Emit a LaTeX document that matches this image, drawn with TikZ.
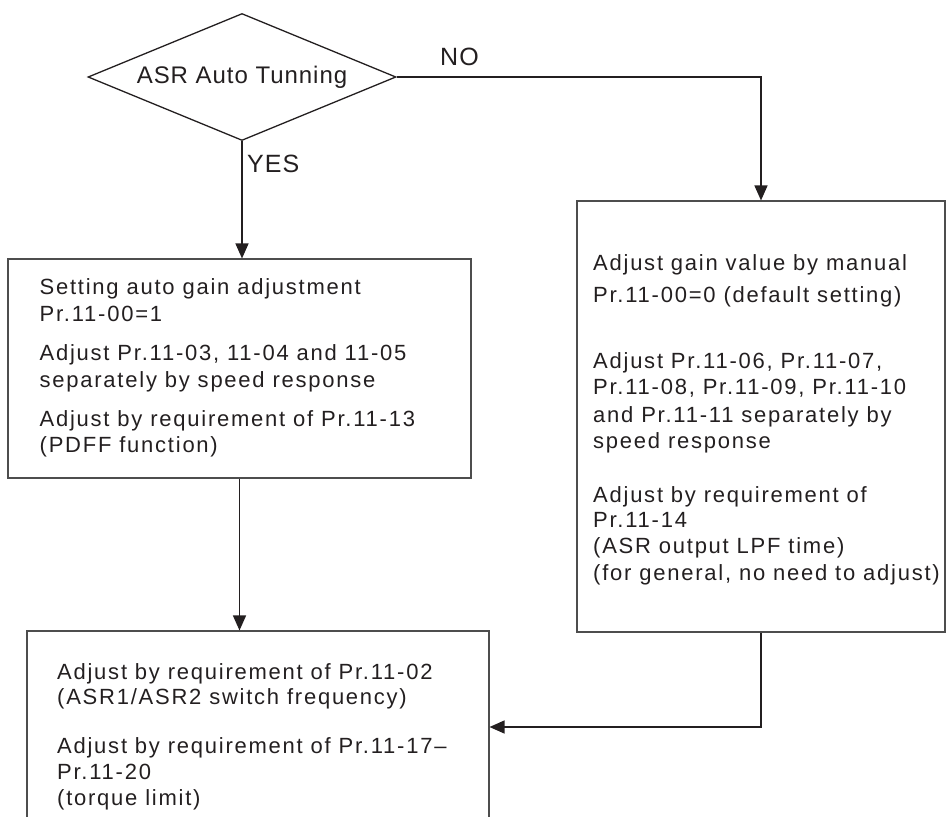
\documentclass[tikz,border=0pt]{standalone}
\usepackage{fontspec}
\setmainfont{Liberation Sans}
\newfontfamily\bodyfont{Liberation Sans}[LetterSpace=8]
\newfontfamily\labelfont{Liberation Sans}[LetterSpace=4]
\usetikzlibrary{shapes.geometric,arrows.meta}
\definecolor{ink}{HTML}{231F20}
\definecolor{edgec}{HTML}{4D4D4D}
\begin{document}
\begin{tikzpicture}[x=1pt,y=-1pt,
  boxnode/.style={draw=edgec, line width=1.1pt, rectangle, inner sep=0pt},
  conn/.style={draw=ink, line width=1.4pt, -{Triangle[length=15pt,width=13pt]}},
  ln/.style={anchor=base west, inner sep=0pt, text=ink, font=\bodyfont\fontsize{22}{26}\selectfont},
  lbl/.style={anchor=base west, inner sep=0pt, text=ink, font=\labelfont\fontsize{25}{30}\selectfont}]
\useasboundingbox (0,0) rectangle (946,817);
\clip (0,0) rectangle (946,817);

% decision
\node[diamond, draw=ink, line width=1.3pt, minimum width=308pt, minimum height=127pt,
      inner sep=0pt, aspect=2.4, text=ink, font=\labelfont\fontsize{24}{28}\selectfont] (dia) at (242,77) {ASR Auto Tunning};
\node[lbl] (no) at (440,65) {NO};
\node[lbl] (yes) at (247,172) {YES};

% boxes
\node[boxnode, minimum width=463pt, minimum height=219pt] (lb) at (239.5,368.5) {};
\node[boxnode, minimum width=368pt, minimum height=431pt] (rb) at (761,416.5) {};
\node[boxnode, minimum width=462pt, minimum height=229pt] (bb) at (258,745.5) {};

% left box text
\node[ln] (l1) at (39.5,294) {Setting auto gain adjustment};
\node[ln] (l2) at (39.5,321) {Pr.11-00=1};
\node[ln] (l3) at (39.5,360) {Adjust Pr.11-03, 11-04 and 11-05};
\node[ln] (l4) at (39.5,387) {separately by speed response};
\node[ln] (l5) at (39.5,426) {Adjust by requirement of Pr.11-13};
\node[ln] (l6) at (39.5,452) {(PDFF function)};

% right box text
\node[ln] (r1) at (593,270) {Adjust gain value by manual};
\node[ln] (r2) at (593,302) {Pr.11-00=0 (default setting)};
\node[ln] (r3) at (593,368) {Adjust Pr.11-06, Pr.11-07,};
\node[ln] (r4) at (593,394) {Pr.11-08, Pr.11-09, Pr.11-10};
\node[ln] (r5) at (593,422) {and Pr.11-11 separately by};
\node[ln] (r6) at (593,448) {speed response};
\node[ln] (r7) at (593,502) {Adjust by requirement of};
\node[ln] (r8) at (593,527) {Pr.11-14};
\node[ln] (r9) at (593,553) {(ASR output LPF time)};
\node[ln] (r10) at (593,580) {(for general, no need to adjust)};

% bottom box text
\node[ln] (b1) at (57,679) {Adjust by requirement of Pr.11-02};
\node[ln] (b2) at (57,704) {(ASR1/ASR2 switch frequency)};
\node[ln] (b3) at (57,753) {Adjust by requirement of Pr.11-17–};
\node[ln] (b4) at (57,779) {Pr.11-20};
\node[ln] (b5) at (57,805) {(torque limit)};

% connectors
\coordinate (mid) at (760,727);
\draw[conn] (dia.south) -- (dia.south |- lb.north);
\draw[conn] (dia.east) -| (rb.north);
\draw[conn] (lb.south) -- (lb.south |- bb.north);
\draw[conn] (rb.south) |- (bb.east |- mid);
\end{tikzpicture}
\end{document}
